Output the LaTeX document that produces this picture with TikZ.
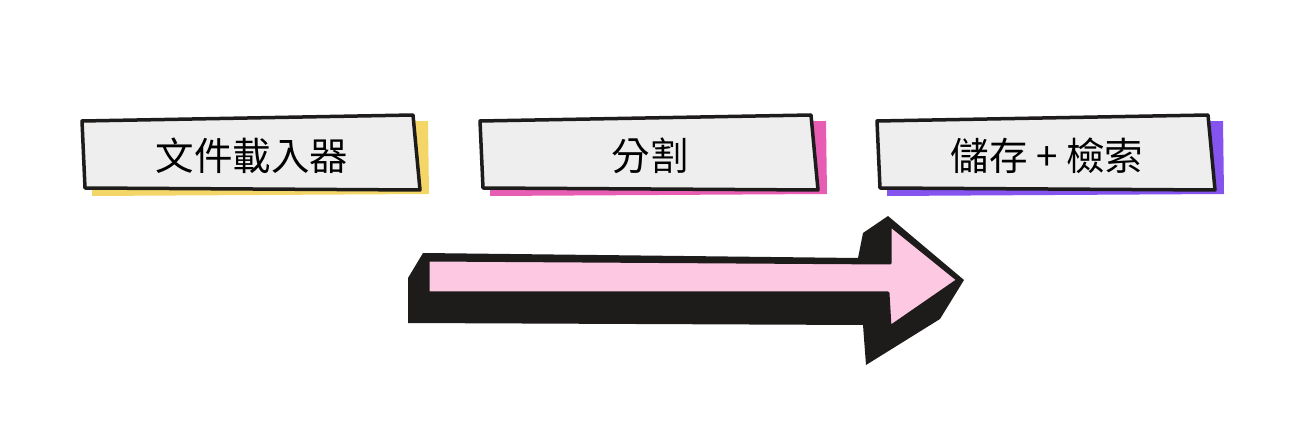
\documentclass[tikz,border=0pt]{standalone}
\usepackage{fontspec}
\setmainfont{Noto Sans CJK TC}
\definecolor{boxgray}{HTML}{EEEEEE}
\definecolor{loaderyellow}{HTML}{F4D668}
\definecolor{splitpink}{HTML}{E85DB4}
\definecolor{storepurple}{HTML}{8553EE}
\definecolor{arrowpink}{HTML}{FDC8E2}
\definecolor{inkblack}{HTML}{1E1B1B}

\tikzstyle{stage box} = [fill=boxgray,draw=inkblack,line width=3.5pt,line join=round]
\tikzstyle{stage text} = [font=\fontsize{38.5}{42}\selectfont,inner sep=0pt]
\tikzstyle{arrow body} = [fill=arrowpink,draw=inkblack,line width=3pt,line join=round]

\begin{document}
\begin{tikzpicture}[x=1pt,y=-1pt]
	\useasboundingbox (0,0) rectangle (1310,446);
	% First we draw the three stages
	\foreach \name/\x/\shade/\txt in {loader/82/loaderyellow/文件載入器, split/480/splitpink/分割, store/877/storepurple/儲存 + 檢索}
	{
		\fill[\shade] (\x+10,125) -- (\x+346,121) -- (\x+347,194) -- (\x+10,196) -- cycle;
		\path[stage box] (\x,121) -- (\x+331,115) -- (\x+338,190) -- (\x+3,188) -- cycle;
		\node[stage text] (\name) at (\x+170,156) {\txt};
	}
	% Connect the stages with the big arrow
	\coordinate (tail) at (428,276);
	\coordinate (tip) at (958,280);
	\fill[inkblack] (423,253) -- (858,258) -- (863,233) -- (888,216) -- (964,280) -- (940,319)
		-- (866,365) -- (863,325) -- (408,323) -- (408,278) -- cycle;
	\path[arrow body] (tail |- 0,260) -- (890,263) -- (890,225) -- (tip) -- (890,327) -- (888,293)
		-- (tail |- 0,293) -- cycle;
\end{tikzpicture}
\end{document}
